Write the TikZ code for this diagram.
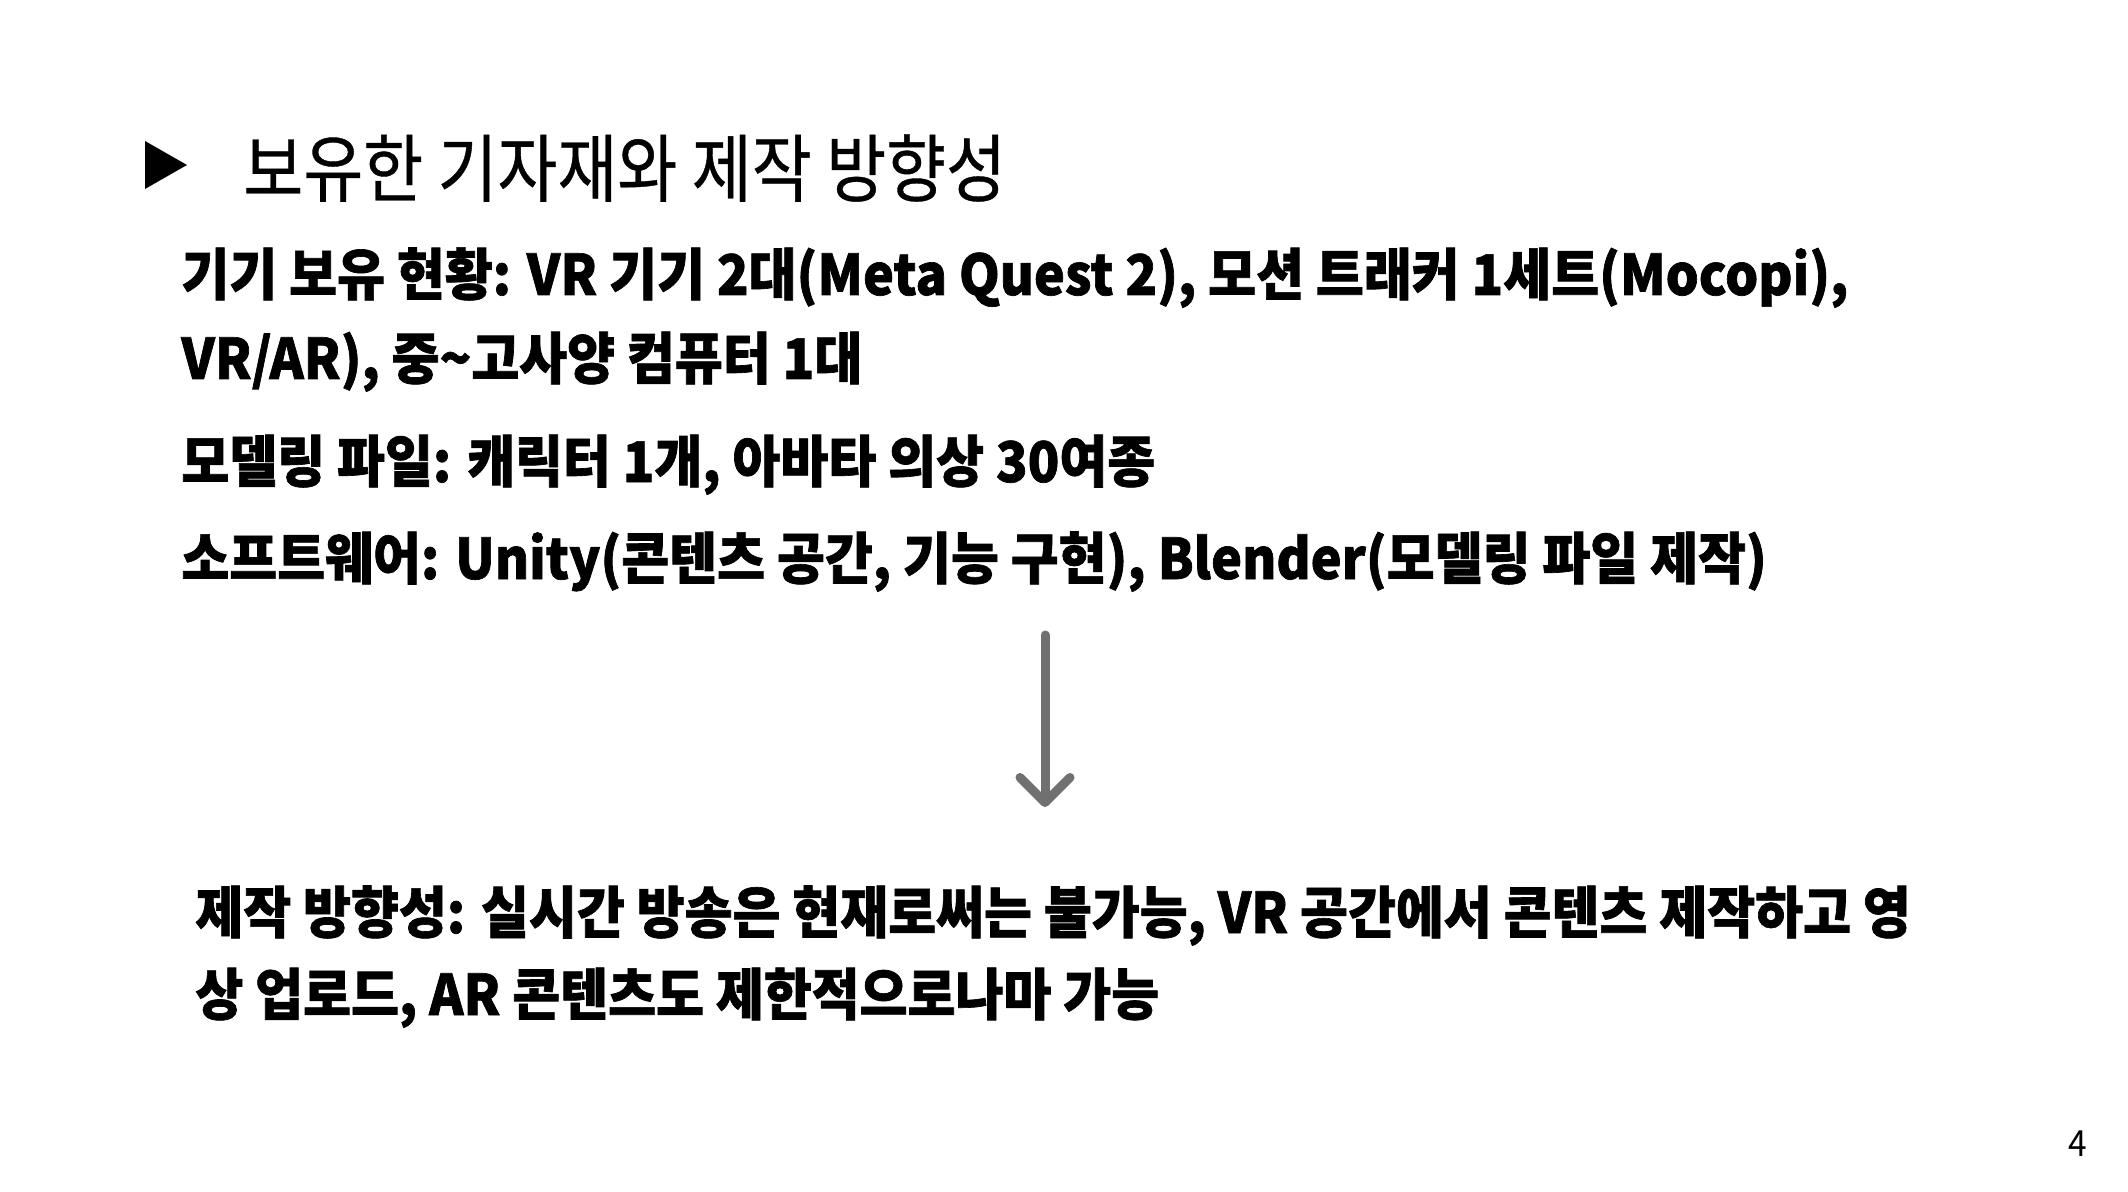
\documentclass[tikz,border=0pt]{standalone}
\usepackage{fontspec}
\usetikzlibrary{arrows.meta}
\setmainfont{Noto Sans CJK KR}[FakeStretch=0.93,BoldFeatures={FakeBold=1.2}]
\newfontfamily\titlefont{Noto Sans CJK KR}[FakeStretch=0.88,FakeBold=0.5]
\definecolor{arrowgray}{HTML}{707070}
\newcommand{\headfont}{\titlefont\fontsize{37pt}{44pt}\selectfont}
\newcommand{\bodyfont}{\fontsize{28pt}{34pt}\selectfont\bfseries}

\begin{document}
\begin{tikzpicture}[x=0.5pt,y=-0.5pt,
  line/.style={anchor=base west,inner sep=0pt,font=\bodyfont},
  flow/.style={draw=arrowgray,line width=4.5pt,line cap=round,
    -{Straight Barb[length=12.5pt,width=25pt,round]}}]
\useasboundingbox [fill=white] (0,0) rectangle (2128,1192);
\fill (145,141)--(187,165)--(145,189)--cycle;
\node [anchor=base west,inner sep=0pt,font=\headfont] (title) at (243,196) {보유한 기자재와 제작 방향성};
\node [line] (own1) at (181,295) {기기 보유 현황: VR 기기 2대(Meta Quest 2), 모션 트래커 1세트(Mocopi),};
\node [line] (own2) at (181,379) {VR/AR), 중\textasciitilde 고사양 컴퓨터 1대};
\node [line] (model) at (181,482) {모델링 파일: 캐릭터 1개, 아바타 의상 30여종};
\node [line] (soft) at (181,579) {소프트웨어: Unity(콘텐츠 공간, 기능 구현), Blender(모델링 파일 제작)};
\coordinate (flowtop) at (1045,635);
\coordinate (flowend) at (1045,807);
\draw [flow] (flowtop)--(flowend);
\node [line] (plan1) at (195,933) {제작 방향성: 실시간 방송은 현재로써는 불가능, VR 공간에서 콘텐츠 제작하고 영};
\node [line] (plan2) at (195,1015) {상 업로드, AR 콘텐츠도 제한적으로나마 가능};
\node [anchor=base,inner sep=0pt,font=\fontsize{18pt}{22pt}\selectfont] (page) at (2078,1156) {4};
\end{tikzpicture}
\end{document}
